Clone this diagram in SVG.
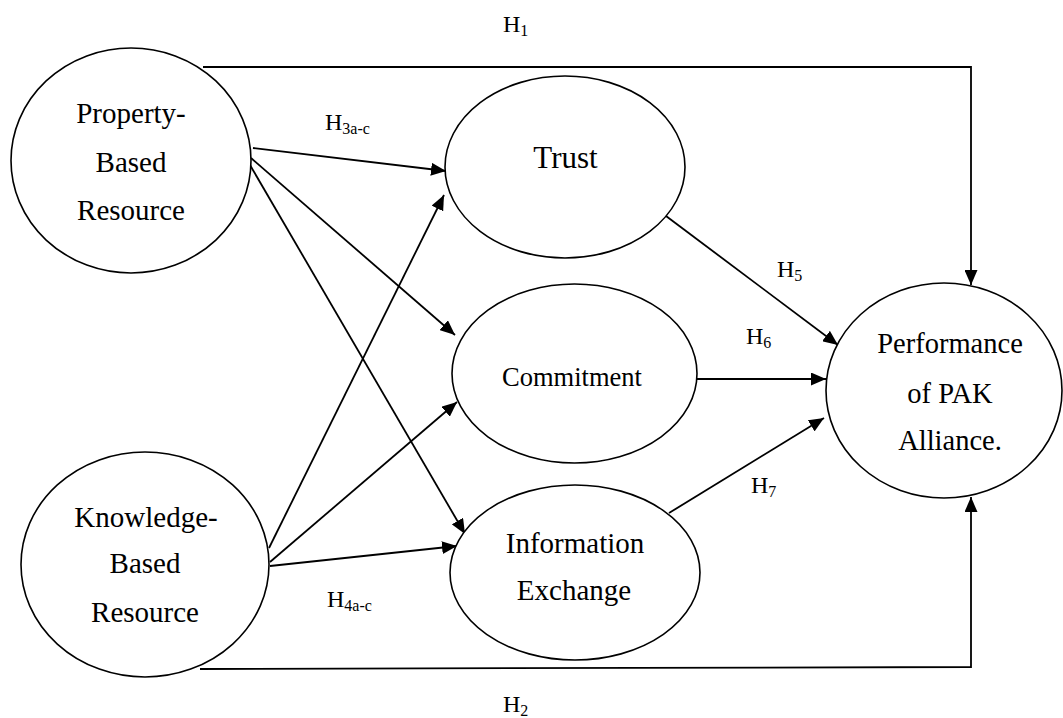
<svg xmlns="http://www.w3.org/2000/svg" width="1063" height="718" viewBox="0 0 1063 718">
<style>
.node ellipse{fill:#fff;stroke:#000;stroke-width:1.6}
text{font-family:'Liberation Serif','DejaVu Serif',serif;fill:#000}
.t{text-anchor:middle}
.lbl{font-size:24px}
.sub{font-size:16px}
#connectors line,#connectors polyline{stroke:#000;stroke-width:1.8;fill:none}
</style>
<defs>
<marker id="ah" markerUnits="userSpaceOnUse" markerWidth="15" markerHeight="13" refX="15" refY="6.5" orient="auto">
<path d="M0,0 L15,6.5 L0,13 z" fill="#000"/>
</marker>
</defs>
<rect width="1063" height="718" fill="#fff"/>
<g id="connectors">
<polyline points="203,67 971,67 971,285" marker-end="url(#ah)"/>
<polyline points="200,669 971,667 971,497" marker-end="url(#ah)"/>
<line x1="253" y1="148" x2="446" y2="171" marker-end="url(#ah)"/>
<line x1="251" y1="158" x2="455" y2="335" marker-end="url(#ah)"/>
<line x1="250" y1="165" x2="465" y2="534" marker-end="url(#ah)"/>
<line x1="269" y1="548" x2="444" y2="195" marker-end="url(#ah)"/>
<line x1="270" y1="562" x2="457" y2="402" marker-end="url(#ah)"/>
<line x1="270" y1="566" x2="457" y2="546" marker-end="url(#ah)"/>
<line x1="666" y1="216" x2="838" y2="345" marker-end="url(#ah)"/>
<line x1="697" y1="379" x2="826" y2="379" marker-end="url(#ah)"/>
<line x1="669" y1="513" x2="824" y2="418" marker-end="url(#ah)"/>
</g>
<g id="n-property" class="node">
<ellipse cx="131" cy="160.5" rx="120" ry="112.5"/>
<text class="t" font-family="Liberation Serif, serif" font-size="29" x="131" y="123">Property-</text>
<text class="t" font-size="29" x="131" y="172">Based</text>
<text class="t" font-size="29" x="131" y="220">Resource</text>
</g>
<g id="n-knowledge" class="node">
<ellipse cx="145" cy="564.5" rx="124" ry="112.5"/>
<text class="t" font-size="29" x="146" y="527">Knowledge-</text>
<text class="t" font-size="29" x="145" y="573">Based</text>
<text class="t" font-size="29" x="145" y="622">Resource</text>
</g>
<g id="n-trust" class="node">
<ellipse cx="565" cy="167" rx="120" ry="91"/>
<text class="t" font-size="31" x="565.5" y="168">Trust</text>
</g>
<g id="n-commitment" class="node">
<ellipse cx="574.5" cy="373.5" rx="122.5" ry="89.5"/>
<text class="t" font-size="26.5" x="572" y="386">Commitment</text>
</g>
<g id="n-info" class="node">
<ellipse cx="575" cy="572.5" rx="125" ry="87.5"/>
<text class="t" font-size="29" x="575" y="553">Information</text>
<text class="t" font-size="29" x="574" y="600">Exchange</text>
</g>
<g id="n-performance" class="node">
<ellipse cx="944" cy="390.5" rx="118" ry="107.5"/>
<text class="t" font-size="28.5" x="950" y="353">Performance</text>
<text class="t" font-size="28.5" x="950" y="403">of PAK</text>
<text class="t" font-size="28.5" x="950" y="450">Alliance.</text>
</g>
<g id="labels">
<text class="lbl" x="503" y="32">H<tspan class="sub" dy="4">1</tspan></text>
<text class="lbl" x="503" y="712">H<tspan class="sub" dy="4">2</tspan></text>
<text class="lbl" x="325" y="130">H<tspan class="sub" dy="4">3a-c</tspan></text>
<text class="lbl" x="327" y="607">H<tspan class="sub" dy="4">4a-c</tspan></text>
<text class="lbl" x="777" y="277">H<tspan class="sub" dy="4">5</tspan></text>
<text class="lbl" x="746" y="344">H<tspan class="sub" dy="4">6</tspan></text>
<text class="lbl" x="751" y="493">H<tspan class="sub" dy="4">7</tspan></text>
</g>
</svg>
